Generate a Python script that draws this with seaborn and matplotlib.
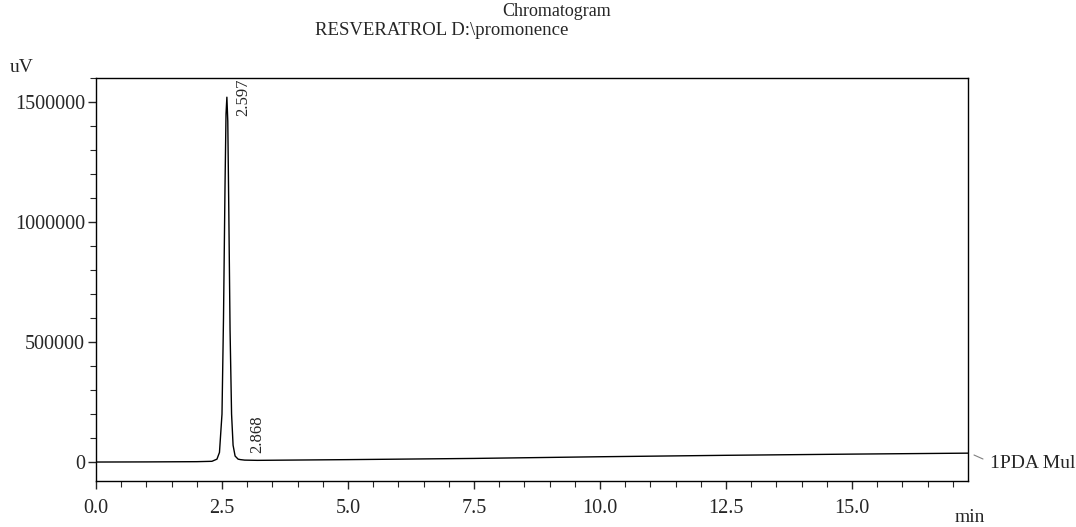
import numpy as np
import pandas as pd
import matplotlib
matplotlib.use("Agg")
import matplotlib.pyplot as plt
import seaborn as sns
from matplotlib.ticker import MultipleLocator
from matplotlib.lines import Line2D

# === DATA ===
time_min = [0.0, 1.0, 2.0, 2.3, 2.4, 2.45, 2.5, 2.53, 2.56, 2.58, 2.597,
            2.615, 2.635, 2.66, 2.69, 2.72, 2.76, 2.82, 2.868, 2.95, 3.2,
            5.0, 7.5, 10.0, 12.5, 15.0, 17.3]
signal_uv = [0, 500, 1500, 3000, 12000, 40000, 200000, 600000, 1150000, 1450000, 1520000,
             1420000, 1050000, 550000, 200000, 70000, 25000, 12000, 10000, 8000, 7000,
             10000, 15000, 22000, 28000, 33000, 37000]
peak_times = [2.597, 2.868]
peak_labels = ["2.597", "2.868"]
peak_label_y = [1520000, 115000]
x_ticks = [0.0, 2.5, 5.0, 7.5, 10.0, 12.5, 15.0]
y_ticks = [0, 500000, 1000000, 1500000]
# =================================

df = pd.DataFrame({"min": time_min, "uV": signal_uv})

sns.set_style("ticks")
plt.rcParams["font.family"] = ["Liberation Serif", "DejaVu Serif"]

fig = plt.figure(figsize=(10.76, 5.27), dpi=100)
ax = fig.add_axes([0.0892, 0.0873, 0.8104, 0.7647])

sns.lineplot(data=df, x="min", y="uV", color="black", linewidth=1.0, ax=ax)

# retention time labels, rotated like the printout
for t, lab, yl in zip(peak_times, peak_labels, peak_label_y):
    ax.text(t + 0.17, yl, lab, rotation=90, ha="left", va="center", fontsize=12)

ax.set_xlim(0, 17.3)
ax.set_ylim(-79000, 1600000)
ax.set_xticks(x_ticks)
ax.set_xticklabels([f"{v:.1f}" for v in x_ticks])
ax.set_yticks(y_ticks)
ax.set_yticklabels([str(v) for v in y_ticks])
ax.xaxis.set_minor_locator(MultipleLocator(0.5))
ax.yaxis.set_minor_locator(MultipleLocator(100000))
ax.tick_params(axis="both", which="major", length=6, width=1, labelsize=14.5, direction="out")
ax.tick_params(axis="x", which="major", pad=7)
ax.tick_params(axis="y", which="major", pad=2)
ax.tick_params(axis="both", which="minor", length=4, width=0.8, direction="out")
ax.set_xlabel("")
ax.set_ylabel("")
for s in ax.spines.values():
    s.set_linewidth(1.0)
    s.set_color("black")

# header + loose labels
fig.text(557 / 1076, 1 - 16 / 527, "Chromatogram", ha="center", va="baseline", fontsize=13)
fig.text(315 / 1076, 1 - 35 / 527, r"RESVERATROL D:\promonence", ha="left", va="baseline", fontsize=13.5)
fig.text(10 / 1076, 1 - 68 / 527, "uV", ha="left", va="center", fontsize=14)
fig.text(970 / 1076, 1 - 518 / 527, "min", ha="center", va="center", fontsize=14)
fig.text(990 / 1076, 1 - 463 / 527, "1PDA Mul", ha="left", va="center", fontsize=14)
fig.add_artist(Line2D([974 / 1076, 983 / 1076], [1 - 455 / 527, 1 - 459 / 527],
                      color="gray", linewidth=0.8))

fig.savefig("out.png", dpi=100)
